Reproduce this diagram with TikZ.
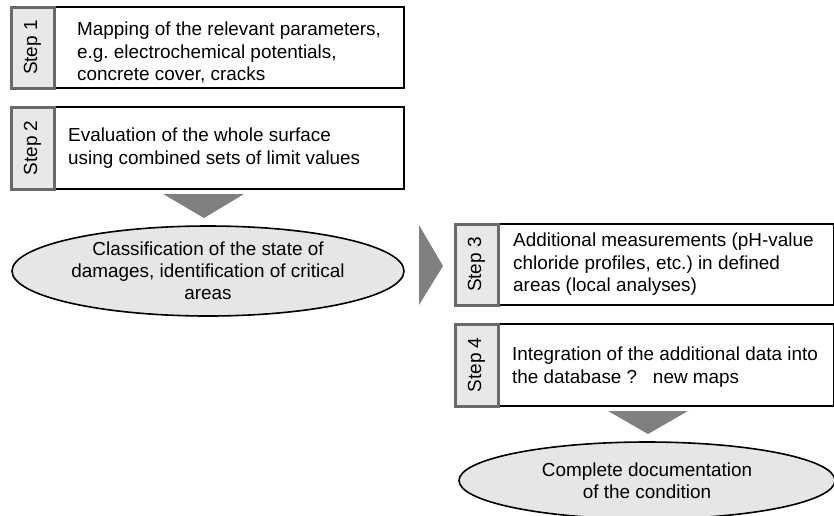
\documentclass[tikz,border=0pt]{standalone}
\usepackage{fontspec}
\setmainfont{Liberation Sans}
\usepackage{tikz}
\usetikzlibrary{shapes.geometric}
\definecolor{tabgray}{RGB}{232,232,232}
\definecolor{tabline}{RGB}{105,105,105}
\definecolor{arrgray}{RGB}{128,128,128}
\definecolor{ovalgray}{RGB}{230,230,230}
\frenchspacing

\begin{document}
\begin{tikzpicture}[x=1pt,y=-1pt,
    stepbox/.style={draw,line width=1.6pt,fill=white,minimum height=81pt,minimum width=349pt,
        anchor=west},
    steptext/.style={align=left,anchor=west,inner sep=0pt,font=\fontsize{18.9}{22.5}\selectfont},
    steptab/.style={draw=tabline,line width=3pt,fill=tabgray,rotate=90,minimum width=81pt,
        minimum height=43pt,font=\fontsize{19}{20}\selectfont},
    oval/.style={ellipse,draw,line width=1.6pt,fill=ovalgray,align=center,inner sep=0pt,
        font=\fontsize{18.9}{21.8}\selectfont},
    blockarr/.style={fill=arrgray}
]
\useasboundingbox (0,0) rectangle (834,515);

% left column
\node[stepbox] (s1box) at (54,47.5) {};
\node[steptext] (s1txt) at ([xshift=23pt,yshift=-5pt]s1box.west)
    {Mapping of the relevant parameters,\\e.g. electrochemical potentials,\\concrete cover, cracks};
\node[steptab] (s1tab) at (32.5,47.5) {Step 1};
\node[stepbox,minimum height=82pt] (s2box) at (54,148) {};
\node[steptext] (s2txt) at ([xshift=14pt]s2box.west)
    {Evaluation of the whole surface\\using combined sets of limit values};
\node[steptab,minimum width=82pt] (s2tab) at (32.5,148) {Step 2};
\fill[blockarr] (163,194) -- (244,194) -- (204,218) -- cycle;
\node[oval,minimum width=392pt,minimum height=90pt] (damage) at (208,271)
    {Classification of the state of\\damages, identification of critical\\areas};

% right column
\fill[blockarr] (419,225) -- (443,266) -- (419,305) -- cycle;
\node[stepbox,minimum width=335pt] (s3box) at (498,264.5) {};
\node[steptext] (s3txt) at ([xshift=15pt]s3box.west)
    {Additional measurements (pH-value\\chloride profiles, etc.) in defined\\areas (local analyses)};
\node[steptab] (s3tab) at (476.5,264.5) {Step 3};
\node[stepbox,minimum width=335pt,minimum height=82pt] (s4box) at (498,365) {};
\node[steptext] (s4txt) at ([xshift=14pt,yshift=-2pt]s4box.west)
    {Integration of the additional data into\\the database ?\ \ \ new maps};
\node[steptab,minimum width=82pt] (s4tab) at (476.5,365) {Step 4};
\fill[blockarr] (608,411) -- (688,411) -- (648,434) -- cycle;
\node[oval,minimum width=376pt,minimum height=77pt] (docu) at (647,480.5)
    {Complete documentation\\of the condition};
\end{tikzpicture}
\end{document}
